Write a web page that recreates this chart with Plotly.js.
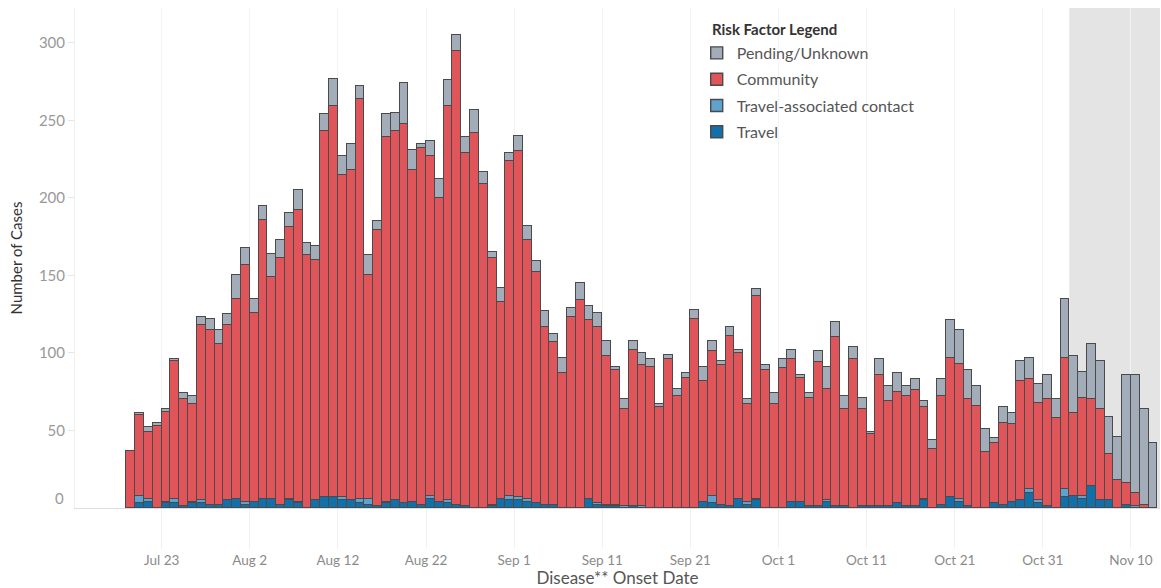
<!DOCTYPE html>
<html>
<head>
<meta charset="utf-8">
<script src="https://cdn.plot.ly/plotly-3.0.1.min.js"></script>
<style>html,body{margin:0;padding:0;background:#fff;}#chart{width:1161px;height:588px;}</style>
</head>
<body>
<div id="chart"></div>
<script>
// First onset date of the series (one bar per day)
var startDate = '2020-07-19';

var pending = [0,1,3,2,2,1,4,5,5,7,9,7,15,11,9,9,15,12,9,13,8,9,11,18,12,17,8,13,6,15,12,26,13,3,10,12,17,10,10,15,8,4,9,5,10,9,7,10,5,10,6,11,9,9,10,2,6,6,8,5,2,3,5,3,6,9,7,3,6,2,3,4,3,7,6,6,2,3,7,14,10,8,8,7,1,10,10,12,7,7,4,6,11,24,22,19,13,15,3,10,7,13,14,12,16,12,38,37,17,36,31,24,28,70,76,62,42];
var community = [37,52,43,53,58,89,69,63,113,113,104,113,129,153,122,180,143,159,175,188,163,155,236,252,208,213,258,144,178,235,238,245,214,230,219,196,254,293,228,242,209,159,127,216,223,167,149,115,105,87,123,134,115,114,96,87,63,101,91,91,65,96,72,84,122,78,93,90,110,94,63,131,89,67,90,92,80,70,93,72,109,63,96,63,47,85,68,72,71,75,59,38,70,90,87,69,66,36,39,53,50,77,71,63,69,58,85,53,63,56,59,30,18,14,9,2,0];
var travelContact = [0,5,2,0,1,3,0,1,2,0,0,0,0,2,0,0,0,0,1,1,0,0,0,0,2,0,3,4,0,1,0,0,0,0,2,0,2,0,0,0,0,1,0,3,2,2,0,0,0,0,0,0,0,1,1,1,1,0,1,0,0,0,0,0,0,0,5,0,0,0,2,1,0,0,0,0,0,0,0,1,0,0,0,0,0,0,0,0,0,0,1,0,0,0,2,0,0,0,0,0,0,0,2,2,0,0,5,0,2,0,0,0,0,0,1,0,0];
var travel = [0,3,4,0,3,3,1,3,3,2,2,5,6,2,4,6,6,2,5,3,0,5,7,7,5,5,3,2,1,3,5,3,4,2,6,4,3,2,1,0,0,1,6,5,5,4,3,2,2,0,0,0,6,2,1,1,0,1,0,0,0,0,0,0,0,4,3,2,1,6,2,5,0,0,0,4,4,1,1,4,1,1,0,1,1,1,1,3,1,1,5,0,2,7,4,1,0,0,3,2,4,5,10,3,1,0,7,8,6,14,5,5,0,2,0,0,0];

var tickDates = ['2020-07-23','2020-08-02','2020-08-12','2020-08-22','2020-09-01','2020-09-11','2020-09-21','2020-10-01','2020-10-11','2020-10-21','2020-10-31','2020-11-10'];
var tickLabels = ['Jul 23','Aug 2','Aug 12','Aug 22','Sep 1','Sep 11','Sep 21','Oct 1','Oct 11','Oct 21','Oct 31','Nov 10'];
var yTicks = [50,100,150,200,250,300];

// stacking order bottom -> top
var seriesNames = ['Travel','Travel-associated contact','Community','Pending/Unknown'];
var seriesColors = ['#1170aa','#5fa2ce','#e05559','#a3acb9'];
var legendRanks = [4, 3, 2, 1];

function pad(n){return (n<10?'0':'')+n;}
var dates = [];
var d0 = new Date(startDate + 'T00:00:00Z');
for (var i = 0; i < pending.length; i++) {
  var d = new Date(d0.getTime() + i*86400000);
  dates.push(d.getUTCFullYear()+'-'+pad(d.getUTCMonth()+1)+'-'+pad(d.getUTCDate())+' 12:00');
}

var seriesValues = [travel, travelContact, community, pending];
var traces = seriesValues.map(function(vals, k){
  return {
    type: 'bar',
    x: dates,
    y: vals,
    name: seriesNames[k],
    legendgroup: 'g' + k,
    legendrank: legendRanks[k],
    marker: {color: seriesColors[k], line: {color: '#4a4a4a', width: 1.4}},
    hoverinfo: 'x+y+name'
  };
});

var font = "Lato, 'Open Sans', sans-serif";
var layout = {
  width: 1161, height: 588,
  margin: {l: 75, r: 1, t: 8, b: 80},
  paper_bgcolor: '#ffffff', plot_bgcolor: '#ffffff',
  barmode: 'stack', bargap: 0,
  font: {family: font, color: '#8a8a8a'},
  showlegend: true,
  legend: {
    x: 0.573, y: 0.944, xanchor: 'left', yanchor: 'top',
    traceorder: 'grouped',
    tracegroupgap: 2.5,
    bgcolor: 'rgba(0,0,0,0)',
    font: {family: font, size: 16, color: '#555555'},
    itemclick: false, itemdoubleclick: false
  },
  xaxis: {
    type: 'date',
    range: ['2020-07-13 04:00', '2020-11-13 07:00'],
    tickvals: tickDates,
    ticktext: tickLabels,
    ticks: 'outside', ticklen: 40, tickcolor: '#f1f1f1', tickwidth: 1,
    tickfont: {family: font, size: 13.5, color: '#8a8a8a'},
    showgrid: true, gridcolor: '#f3f3f3',
    showline: true, linecolor: '#dddddd', linewidth: 1,
    zeroline: false,
    title: {text: 'Disease** Onset Date', standoff: 6, font: {family: font, size: 17, color: '#555555'}}
  },
  yaxis: {
    range: [0, 322.5],
    tickvals: yTicks,
    ticks: 'outside', ticklen: 6, tickcolor: '#e6e6e6',
    tickfont: {family: font, size: 15, color: '#999999'},
    showgrid: false, zeroline: false,
    showline: true, linecolor: '#f0f0f0',
    title: {text: 'Number of Cases', standoff: 12, font: {family: font, size: 15, color: '#333333'}}
  },
  shapes: [{
    type: 'rect', xref: 'x', yref: 'paper',
    x0: '2020-11-03', x1: '2020-11-13 07:00', y0: 0, y1: 1,
    fillcolor: '#e4e4e4', line: {width: 0}, layer: 'below'
  }],
  annotations: [{
    text: '0', xref: 'paper', yref: 'y', x: 0, y: 6.5,
    xanchor: 'right', yanchor: 'middle', xshift: -9, showarrow: false,
    font: {family: font, size: 15, color: '#999999'}
  }, {
    text: '<b>Risk Factor Legend</b>', xref: 'paper', yref: 'paper',
    x: 0.585, y: 0.98, xanchor: 'left', yanchor: 'top', showarrow: false,
    font: {family: font, size: 15, color: '#333333'}
  }]
};

Plotly.newPlot('chart', traces, layout, {displayModeBar: false});
</script>
</body>
</html>
